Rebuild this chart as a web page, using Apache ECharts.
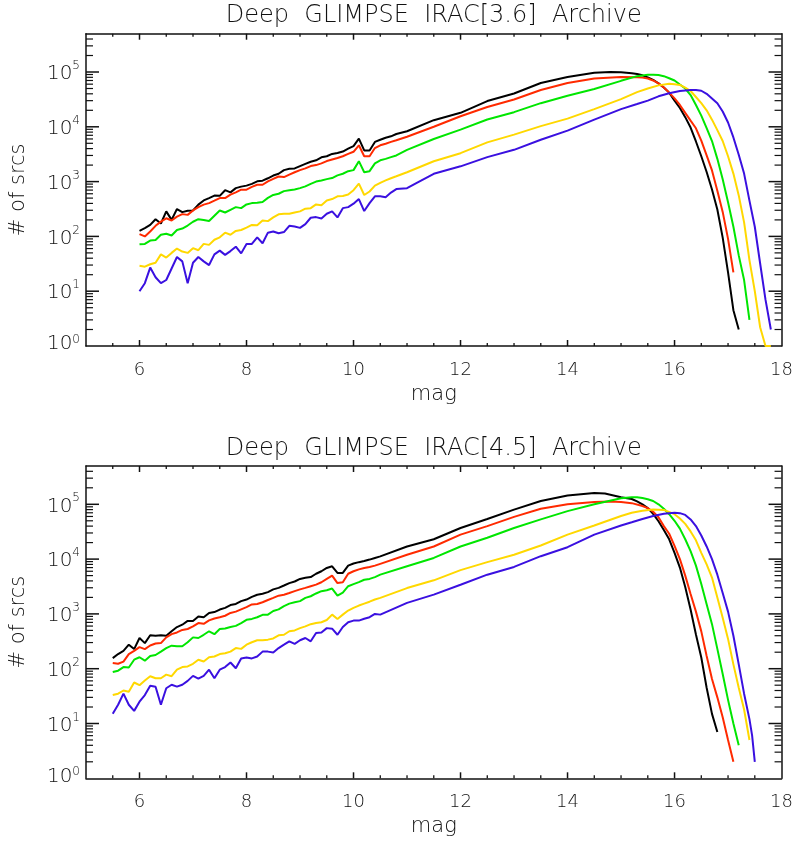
<!DOCTYPE html>
<html><head><meta charset="utf-8">
<script src="https://cdn.jsdelivr.net/npm/echarts@6/dist/echarts.min.js"></script>
<style>html,body{margin:0;padding:0;background:#fff}#c{width:796px;height:841px}</style>
</head><body><div id="c"></div>
<script>
// ---------------- data ----------------
const panelTitles = ['Deep  GLIMPSE  IRAC[3.6]  Archive', 'Deep  GLIMPSE  IRAC[4.5]  Archive'];
const xAxisTitle = 'mag';
const yAxisTitle = '# of srcs';
const xMajorTicks = [6, 8, 10, 12, 14, 16];
const xMinorTicks = [5.5, 6.5, 7, 7.5, 8.5, 9, 9.5, 10.5, 11, 11.5, 12.5, 13, 13.5, 14.5, 15, 15.5, 16.5, 17, 17.5];
const yMajorTicks = [10, 100, 1000, 10000, 100000];
const yMinorTicks = [2, 3, 4, 5, 6, 7, 8, 9, 20, 30, 40, 50, 60, 70, 80, 90,
  200, 300, 400, 500, 600, 700, 800, 900, 2000, 3000, 4000, 5000, 6000, 7000, 8000, 9000,
  20000, 30000, 40000, 50000, 60000, 70000, 80000, 90000, 200000, 300000, 400000];
const seriesNames = ['black', 'red', 'green', 'yellow', 'blue'];
const seriesColors = ['#000000', '#ff2a00', '#00e600', '#ffd800', '#3a10e0'];

// IRAC [3.6] : [mag, # of srcs]
const irac36Black = [[6.0,126],[6.1,141],[6.2,162],[6.3,206],[6.4,172],[6.5,286],[6.6,200],[6.7,316],[6.8,277],[6.9,294],[7.0,298],[7.1,380],[7.2,453],[7.3,500],[7.4,555],[7.5,550],[7.6,697],[7.7,636],[7.8,760],[7.9,810],[8.0,845],[8.1,910],[8.2,1010],[8.3,1040],[8.4,1150],[8.5,1290],[8.6,1390],[8.7,1620],[8.8,1710],[8.9,1740],[9.0,1920],[9.1,2110],[9.2,2300],[9.3,2450],[9.4,2780],[9.5,2900],[9.6,3200],[9.7,3330],[9.8,3540],[9.9,4000],[10.0,4450],[10.1,6100],[10.2,3700],[10.3,3700],[10.4,5300],[10.5,5800],[10.6,6300],[10.7,6700],[10.8,7400],[11.0,8300],[11.5,13200],[12.0,18000],[12.5,29500],[13.0,40500],[13.5,63000],[14.0,81000],[14.5,97000],[14.8,100000],[15.0,99000],[15.2,95000],[15.3,92000],[15.4,87000],[15.5,80000],[15.6,72000],[15.7,62000],[15.8,52000],[15.9,42000],[16.0,30000],[16.1,22000],[16.2,15000],[16.3,9700],[16.4,5400],[16.5,2900],[16.6,1500],[16.7,720],[16.8,310],[16.9,95],[17.0,22],[17.1,4.5],[17.2,2]];
const irac36Red = [[6.0,110],[6.1,100],[6.2,123],[6.3,156],[6.4,186],[6.5,214],[6.6,195],[6.7,230],[6.8,255],[6.9,247],[7.0,298],[7.1,342],[7.2,380],[7.3,405],[7.4,449],[7.5,500],[7.6,500],[7.7,580],[7.8,636],[7.9,712],[8.0,712],[8.1,800],[8.2,875],[8.3,875],[8.4,1010],[8.5,1120],[8.6,1240],[8.7,1210],[8.8,1340],[8.9,1480],[9.0,1620],[9.1,1740],[9.2,1920],[9.3,2000],[9.4,2150],[9.5,2370],[9.6,2530],[9.7,2700],[9.8,2900],[9.9,3200],[10.0,3500],[10.1,4600],[10.2,2900],[10.3,2900],[10.4,4100],[10.5,4600],[10.6,4900],[10.7,5300],[10.8,5700],[11.0,6600],[11.5,10000],[12.0,15600],[12.5,23000],[13.0,31500],[13.5,47000],[14.0,63000],[14.5,76000],[15.0,81000],[15.3,80000],[15.4,79000],[15.5,76000],[15.6,70000],[15.7,62000],[15.8,52000],[15.9,42000],[16.0,33000],[16.1,25000],[16.2,18000],[16.3,13000],[16.4,9400],[16.5,5600],[16.6,3000],[16.7,1600],[16.8,680],[16.9,280],[17.0,90],[17.1,22]];
const irac36Green = [[6.0,72],[6.1,73],[6.2,84],[6.3,86],[6.4,107],[6.5,112],[6.6,104],[6.7,131],[6.8,139],[6.9,158],[7.0,185],[7.1,206],[7.2,200],[7.3,191],[7.4,238],[7.5,297],[7.6,273],[7.7,306],[7.8,342],[7.9,328],[8.0,383],[8.1,405],[8.2,410],[8.3,425],[8.4,505],[8.5,570],[8.6,600],[8.7,670],[8.8,695],[8.9,715],[9.0,760],[9.1,820],[9.2,910],[9.3,1000],[9.4,1050],[9.5,1110],[9.6,1160],[9.7,1300],[9.8,1390],[9.9,1550],[10.0,1620],[10.1,2360],[10.2,1480],[10.3,1550],[10.4,2150],[10.5,2450],[10.6,2600],[10.7,2800],[10.8,3000],[11.0,3800],[11.5,6000],[12.0,8900],[12.5,13600],[13.0,18500],[13.5,27000],[14.0,37000],[14.5,49000],[15.0,69000],[15.3,84000],[15.5,89000],[15.6,89000],[15.7,88000],[15.8,84000],[15.9,77000],[16.0,70000],[16.1,59000],[16.2,50000],[16.3,38000],[16.4,25000],[16.5,16000],[16.6,9500],[16.7,5500],[16.8,2600],[16.9,1100],[17.0,420],[17.1,150],[17.2,45],[17.3,16],[17.4,3]];
const irac36Yellow = [[6.0,29],[6.1,28],[6.2,31],[6.3,33],[6.4,47],[6.5,41],[6.6,50],[6.7,60],[6.8,53],[6.9,50],[7.0,61],[7.1,56],[7.2,73],[7.3,70],[7.4,87],[7.5,96],[7.6,117],[7.7,107],[7.8,126],[7.9,131],[8.0,145],[8.1,162],[8.2,160],[8.3,195],[8.4,190],[8.5,222],[8.6,253],[8.7,259],[8.8,259],[8.9,274],[9.0,286],[9.1,320],[9.2,328],[9.3,383],[9.4,372],[9.5,453],[9.6,480],[9.7,540],[9.8,548],[9.9,580],[10.0,696],[10.1,920],[10.2,570],[10.3,660],[10.4,845],[10.5,950],[10.6,1050],[10.7,1150],[10.8,1250],[11.0,1480],[11.5,2350],[12.0,3300],[12.5,5200],[13.0,7200],[13.5,10300],[14.0,14100],[14.5,21000],[15.0,32000],[15.3,43000],[15.5,50000],[15.7,57000],[15.9,61000],[16.0,60000],[16.1,58000],[16.2,52000],[16.3,45000],[16.4,35000],[16.5,27000],[16.6,20000],[16.7,13500],[16.8,8700],[16.9,5500],[17.0,2900],[17.1,1400],[17.2,560],[17.3,180],[17.4,37],[17.5,10],[17.6,2.2],[17.7,1],[17.8,1]];
const irac36Blue = [[6.0,10],[6.1,14],[6.2,27],[6.3,18],[6.4,14],[6.5,16],[6.6,26],[6.7,42],[6.8,35],[6.9,14],[7.0,33],[7.1,42],[7.2,35],[7.3,30],[7.4,47],[7.5,55],[7.6,46],[7.7,54],[7.8,65],[7.9,49],[8.0,73],[8.1,73],[8.2,96],[8.3,75],[8.4,117],[8.5,123],[8.6,114],[8.7,120],[8.8,156],[8.9,151],[9.0,143],[9.1,167],[9.2,219],[9.3,225],[9.4,213],[9.5,259],[9.6,286],[9.7,222],[9.8,328],[9.9,342],[10.0,395],[10.1,480],[10.2,290],[10.3,405],[10.4,540],[10.5,540],[10.6,520],[10.7,630],[10.8,730],[11.0,760],[11.2,970],[11.5,1390],[12.0,1900],[12.5,2800],[13.0,3800],[13.5,5800],[14.0,8500],[14.5,13500],[15.0,21000],[15.3,26000],[15.5,30000],[15.7,36000],[15.9,41000],[16.1,45000],[16.3,47000],[16.4,47000],[16.5,45500],[16.6,40000],[16.7,33000],[16.8,27000],[16.9,19000],[17.0,12000],[17.1,6400],[17.2,3100],[17.3,1400],[17.4,450],[17.5,150],[17.6,32],[17.7,7],[17.8,2]];

// IRAC [4.5] : [mag, # of srcs]
const irac45Black = [[5.5,156],[5.6,185],[5.7,212],[5.8,274],[5.9,228],[6.0,363],[6.1,293],[6.2,407],[6.3,400],[6.4,407],[6.5,400],[6.6,482],[6.7,575],[6.8,635],[6.9,745],[7.0,745],[7.1,900],[7.2,870],[7.3,1040],[7.4,1080],[7.5,1200],[7.6,1290],[7.7,1450],[7.8,1520],[7.9,1710],[8.0,1830],[8.1,2050],[8.2,2240],[8.3,2340],[8.4,2500],[8.5,2800],[8.6,2990],[8.7,3300],[8.8,3650],[8.9,3900],[9.0,4350],[9.1,4550],[9.2,4700],[9.3,5400],[9.4,6000],[9.5,6900],[9.6,7400],[9.7,5600],[9.8,5600],[9.9,7600],[10.0,8300],[10.1,8800],[10.2,9200],[10.3,9800],[10.4,10500],[10.5,11200],[11.0,17000],[11.5,23000],[12.0,37000],[12.5,54000],[13.0,80000],[13.5,115000],[14.0,145000],[14.5,160000],[14.7,157000],[15.0,135000],[15.2,125000],[15.3,113000],[15.4,100000],[15.5,85000],[15.6,67000],[15.7,49000],[15.8,34000],[15.9,23000],[16.0,13000],[16.1,7000],[16.2,3100],[16.3,1200],[16.4,420],[16.5,160],[16.6,45],[16.7,15],[16.8,7]];
const irac45Red = [[5.5,127],[5.6,123],[5.7,135],[5.8,185],[5.9,212],[6.0,247],[6.1,228],[6.2,265],[6.3,288],[6.4,293],[6.5,373],[6.6,427],[6.7,459],[6.8,510],[6.9,530],[7.0,590],[7.1,680],[7.2,660],[7.3,760],[7.4,825],[7.5,870],[7.6,925],[7.7,1040],[7.8,1100],[7.9,1210],[8.0,1330],[8.1,1490],[8.2,1520],[8.3,1630],[8.4,1790],[8.5,1960],[8.6,2150],[8.7,2240],[8.8,2400],[8.9,2600],[9.0,2800],[9.1,2990],[9.2,3200],[9.3,3420],[9.4,3780],[9.5,4350],[9.6,5000],[9.7,3650],[9.8,3780],[9.9,5400],[10.0,6000],[10.1,6500],[10.2,6900],[10.3,7200],[10.4,7600],[10.5,8200],[11.0,12000],[11.5,17000],[12.0,28000],[12.5,40000],[13.0,59000],[13.5,83000],[14.0,100000],[14.5,110000],[14.8,112000],[15.0,110000],[15.2,105000],[15.4,93000],[15.5,85000],[15.6,73000],[15.7,58000],[15.8,40000],[15.9,29000],[16.0,17500],[16.1,10000],[16.2,5000],[16.3,2300],[16.4,1100],[16.5,480],[16.6,170],[16.7,65],[16.8,30],[16.9,13],[17.0,5],[17.1,2]];
const irac45Green = [[5.5,87],[5.6,92],[5.7,107],[5.8,105],[5.9,146],[6.0,162],[6.1,140],[6.2,170],[6.3,178],[6.4,205],[6.5,238],[6.6,263],[6.7,257],[6.8,257],[6.9,304],[7.0,373],[7.1,363],[7.2,416],[7.3,482],[7.4,427],[7.5,530],[7.6,540],[7.7,575],[7.8,605],[7.9,680],[8.0,780],[8.1,810],[8.2,870],[8.3,960],[8.4,970],[8.5,1130],[8.6,1210],[8.7,1390],[8.8,1540],[8.9,1630],[9.0,1710],[9.1,1960],[9.2,2100],[9.3,2360],[9.4,2600],[9.5,2700],[9.6,2900],[9.7,2150],[9.8,2450],[9.9,3200],[10.0,3500],[10.1,3800],[10.2,4200],[10.3,4350],[10.4,4700],[10.5,5200],[11.0,7400],[11.5,10500],[12.0,17000],[12.5,24500],[13.0,37000],[13.5,53000],[14.0,75000],[14.5,100000],[15.0,129000],[15.2,134000],[15.3,134000],[15.4,130000],[15.5,124000],[15.6,115000],[15.7,100000],[15.8,83000],[15.9,66000],[16.0,50000],[16.1,36000],[16.2,23000],[16.3,14000],[16.4,7600],[16.5,3500],[16.6,1500],[16.7,650],[16.8,230],[16.9,80],[17.0,27],[17.1,10],[17.2,4]];
const irac45Yellow = [[5.5,33],[5.6,35],[5.7,40],[5.8,38],[5.9,56],[6.0,50],[6.1,61],[6.2,73],[6.3,67],[6.4,67],[6.5,78],[6.6,73],[6.7,96],[6.8,107],[6.9,110],[7.0,123],[7.1,146],[7.2,135],[7.3,162],[7.4,167],[7.5,185],[7.6,191],[7.7,205],[7.8,238],[7.9,230],[8.0,274],[8.1,304],[8.2,330],[8.3,330],[8.4,339],[8.5,357],[8.6,407],[8.7,416],[8.8,482],[8.9,500],[9.0,550],[9.1,591],[9.2,650],[9.3,680],[9.4,705],[9.5,775],[9.6,970],[9.7,810],[9.8,970],[9.9,1150],[10.0,1290],[10.1,1420],[10.2,1540],[10.3,1670],[10.4,1830],[10.5,1960],[11.0,2960],[11.5,4100],[12.0,6300],[12.5,8800],[13.0,12000],[13.5,17700],[14.0,28000],[14.5,41000],[15.0,61000],[15.2,70000],[15.4,76000],[15.6,80000],[15.8,79000],[16.0,66000],[16.1,55000],[16.2,44000],[16.3,32000],[16.4,22000],[16.5,13000],[16.6,8000],[16.7,4600],[16.8,2000],[16.9,850],[17.0,350],[17.1,120],[17.2,45],[17.3,18],[17.4,5]];
const irac45Blue = [[5.5,15],[5.6,22],[5.7,35],[5.8,22],[5.9,17],[6.0,25],[6.1,33],[6.2,49],[6.3,47],[6.4,22],[6.5,44],[6.6,51],[6.7,47],[6.8,51],[6.9,60],[7.0,74],[7.1,66],[7.2,74],[7.3,96],[7.4,67],[7.5,96],[7.6,107],[7.7,130],[7.8,102],[7.9,154],[8.0,160],[8.1,154],[8.2,167],[8.3,205],[8.4,205],[8.5,198],[8.6,238],[8.7,274],[8.8,316],[8.9,284],[9.0,330],[9.1,363],[9.2,316],[9.3,449],[9.4,459],[9.5,550],[9.6,537],[9.7,416],[9.8,578],[9.9,705],[10.0,755],[10.1,755],[10.2,815],[10.3,870],[10.4,1000],[10.5,970],[11.0,1590],[11.5,2250],[12.0,3400],[12.5,5200],[13.0,7200],[13.5,11300],[14.0,16500],[14.5,28000],[15.0,41000],[15.2,47000],[15.4,54000],[15.6,61000],[15.8,67000],[16.0,70000],[16.1,69000],[16.2,64000],[16.3,53000],[16.4,40000],[16.5,27000],[16.6,17000],[16.7,10000],[16.8,5200],[16.9,2400],[17.0,1100],[17.1,400],[17.2,120],[17.3,35],[17.4,12],[17.45,6],[17.5,2]];

const panelSeries = [
  [irac36Black, irac36Red, irac36Green, irac36Yellow, irac36Blue],
  [irac45Black, irac45Red, irac45Green, irac45Yellow, irac45Blue]
];

// ---------------- chart ----------------
const FONT = 'DejaVu Sans';
const X_MIN = 5, X_MAX = 18, Y_MIN = 1, Y_MAX = 500000;
const gridTops = [33.7, 466];
const gridH = 312.3;
const plotLeft = 83.5, plotRight = 12;

const chart = echarts.init(document.getElementById('c'), null, {renderer: 'canvas', width: 796, height: 841});

const grids = [], xAxes = [], yAxes = [], series = [], titleEls = [];
const ls = (w) => ({color: '#111', width: w});
const txt = (size) => ({fontFamily: FONT, fontSize: size, color: '#111', fontWeight: 200});

gridTops.forEach((top, i) => {
  grids.push({left: plotLeft, right: plotRight, top: top, height: gridH, containLabel: false});
  xAxes.push({
    gridIndex: i, type: 'value', min: X_MIN, max: X_MAX, splitNumber: 6, position: 'bottom',
    splitLine: {show: false},
    axisLine: {show: true, onZero: false, lineStyle: ls(1.5)},
    axisTick: {show: false},
    axisLabel: Object.assign({show: true, margin: 15, showMinLabel: false}, txt(18)),
    name: xAxisTitle, nameLocation: 'middle', nameGap: 38, nameTextStyle: txt(21)
  });
  xAxes.push({
    gridIndex: i, type: 'value', min: X_MIN, max: X_MAX, position: 'top',
    splitLine: {show: false},
    axisLine: {show: true, onZero: false, lineStyle: ls(1.5)},
    axisTick: {show: false}, axisLabel: {show: false}
  });
  yAxes.push({
    gridIndex: i, type: 'log', logBase: 10, min: Y_MIN, max: Y_MAX, position: 'left',
    splitLine: {show: false},
    axisLine: {show: true, onZero: false, lineStyle: ls(1.5)},
    axisTick: {show: false},
    axisLabel: {
      show: true, margin: 6, showMaxLabel: false,
      formatter: (v) => {
        const e = Math.log10(v);
        if (Math.abs(e - Math.round(e)) > 1e-6) return '';
        const n = Math.round(e);
        return n === 0 ? '{b0|10}{s0|0}' : '{b|10}{s|' + n + '}';
      },
      rich: {
        b: Object.assign({verticalAlign: 'bottom', lineHeight: 24}, txt(20)),
        s: Object.assign({verticalAlign: 'top', lineHeight: 14}, txt(12)),
        b0: Object.assign({verticalAlign: 'top', lineHeight: 24, padding: [0, 0, 14, 0]}, txt(20)),
        s0: Object.assign({verticalAlign: 'top', lineHeight: 14}, txt(12))
      }
    },
    name: yAxisTitle, nameLocation: 'middle', nameGap: 57, nameTextStyle: txt(21)
  });
  yAxes.push({
    gridIndex: i, type: 'log', logBase: 10, min: Y_MIN, max: Y_MAX, position: 'right',
    splitLine: {show: false},
    axisLine: {show: true, onZero: false, lineStyle: ls(1.5)},
    axisTick: {show: false}, axisLabel: {show: false}
  });

  panelSeries[i].forEach((data, k) => {
    series.push({
      type: 'line', name: seriesNames[k], xAxisIndex: i * 2, yAxisIndex: i * 2,
      data: data, showSymbol: false, symbol: 'none', smooth: false, clip: true,
      lineStyle: {color: seriesColors[k], width: 2}, z: 3 + k
    });
  });

  titleEls.push({
    type: 'text', x: plotLeft + (796 - plotLeft - plotRight) / 2, y: top - 17.5,
    style: {text: panelTitles[i], fontFamily: FONT, fontSize: 24, fontWeight: 200, fill: '#111',
      align: 'center', verticalAlign: 'middle', textAlign: 'center', textVerticalAlign: 'middle'}
  });
});

chart.setOption({
  animation: false,
  backgroundColor: '#ffffff',
  grid: grids, xAxis: xAxes, yAxis: yAxes, series: series,
  graphic: {elements: titleEls}
});

// inward tick marks on all four sides (thin filled bars), placed with the chart's own axis scales
const TICK = '#111';
const tickEls = [];
const bar = (x, y, w, h) => ({type: 'rect', z: 50, silent: true,
  shape: {x: x, y: y, width: w, height: h}, style: {fill: TICK}});
try {
  gridTops.forEach((top, i) => {
    const finder = {gridIndex: i};
    [[xMajorTicks, 6, 1.5], [xMinorTicks, 3, 1.3]].forEach(([vals, len, w]) => {
      vals.forEach(v => {
        const b = chart.convertToPixel(finder, [v, Y_MIN]);
        const t = chart.convertToPixel(finder, [v, Y_MAX]);
        tickEls.push(bar(b[0] - w / 2, b[1] - len, w, len));
        tickEls.push(bar(t[0] - w / 2, t[1], w, len));
      });
    });
    [[yMajorTicks, 13, 1.5], [yMinorTicks, 7, 1.2]].forEach(([vals, len, w]) => {
      vals.forEach(v => {
        const l = chart.convertToPixel(finder, [X_MIN, v]);
        const r = chart.convertToPixel(finder, [X_MAX, v]);
        tickEls.push(bar(l[0], l[1] - w / 2, len, w));
        tickEls.push(bar(r[0] - len, r[1] - w / 2, len, w));
      });
    });
  });
  chart.setOption({graphic: {elements: titleEls.concat(tickEls)}});
} catch (err) {
  // leave the chart without the extra ticks if conversion is unavailable
}
</script>
</body></html>
